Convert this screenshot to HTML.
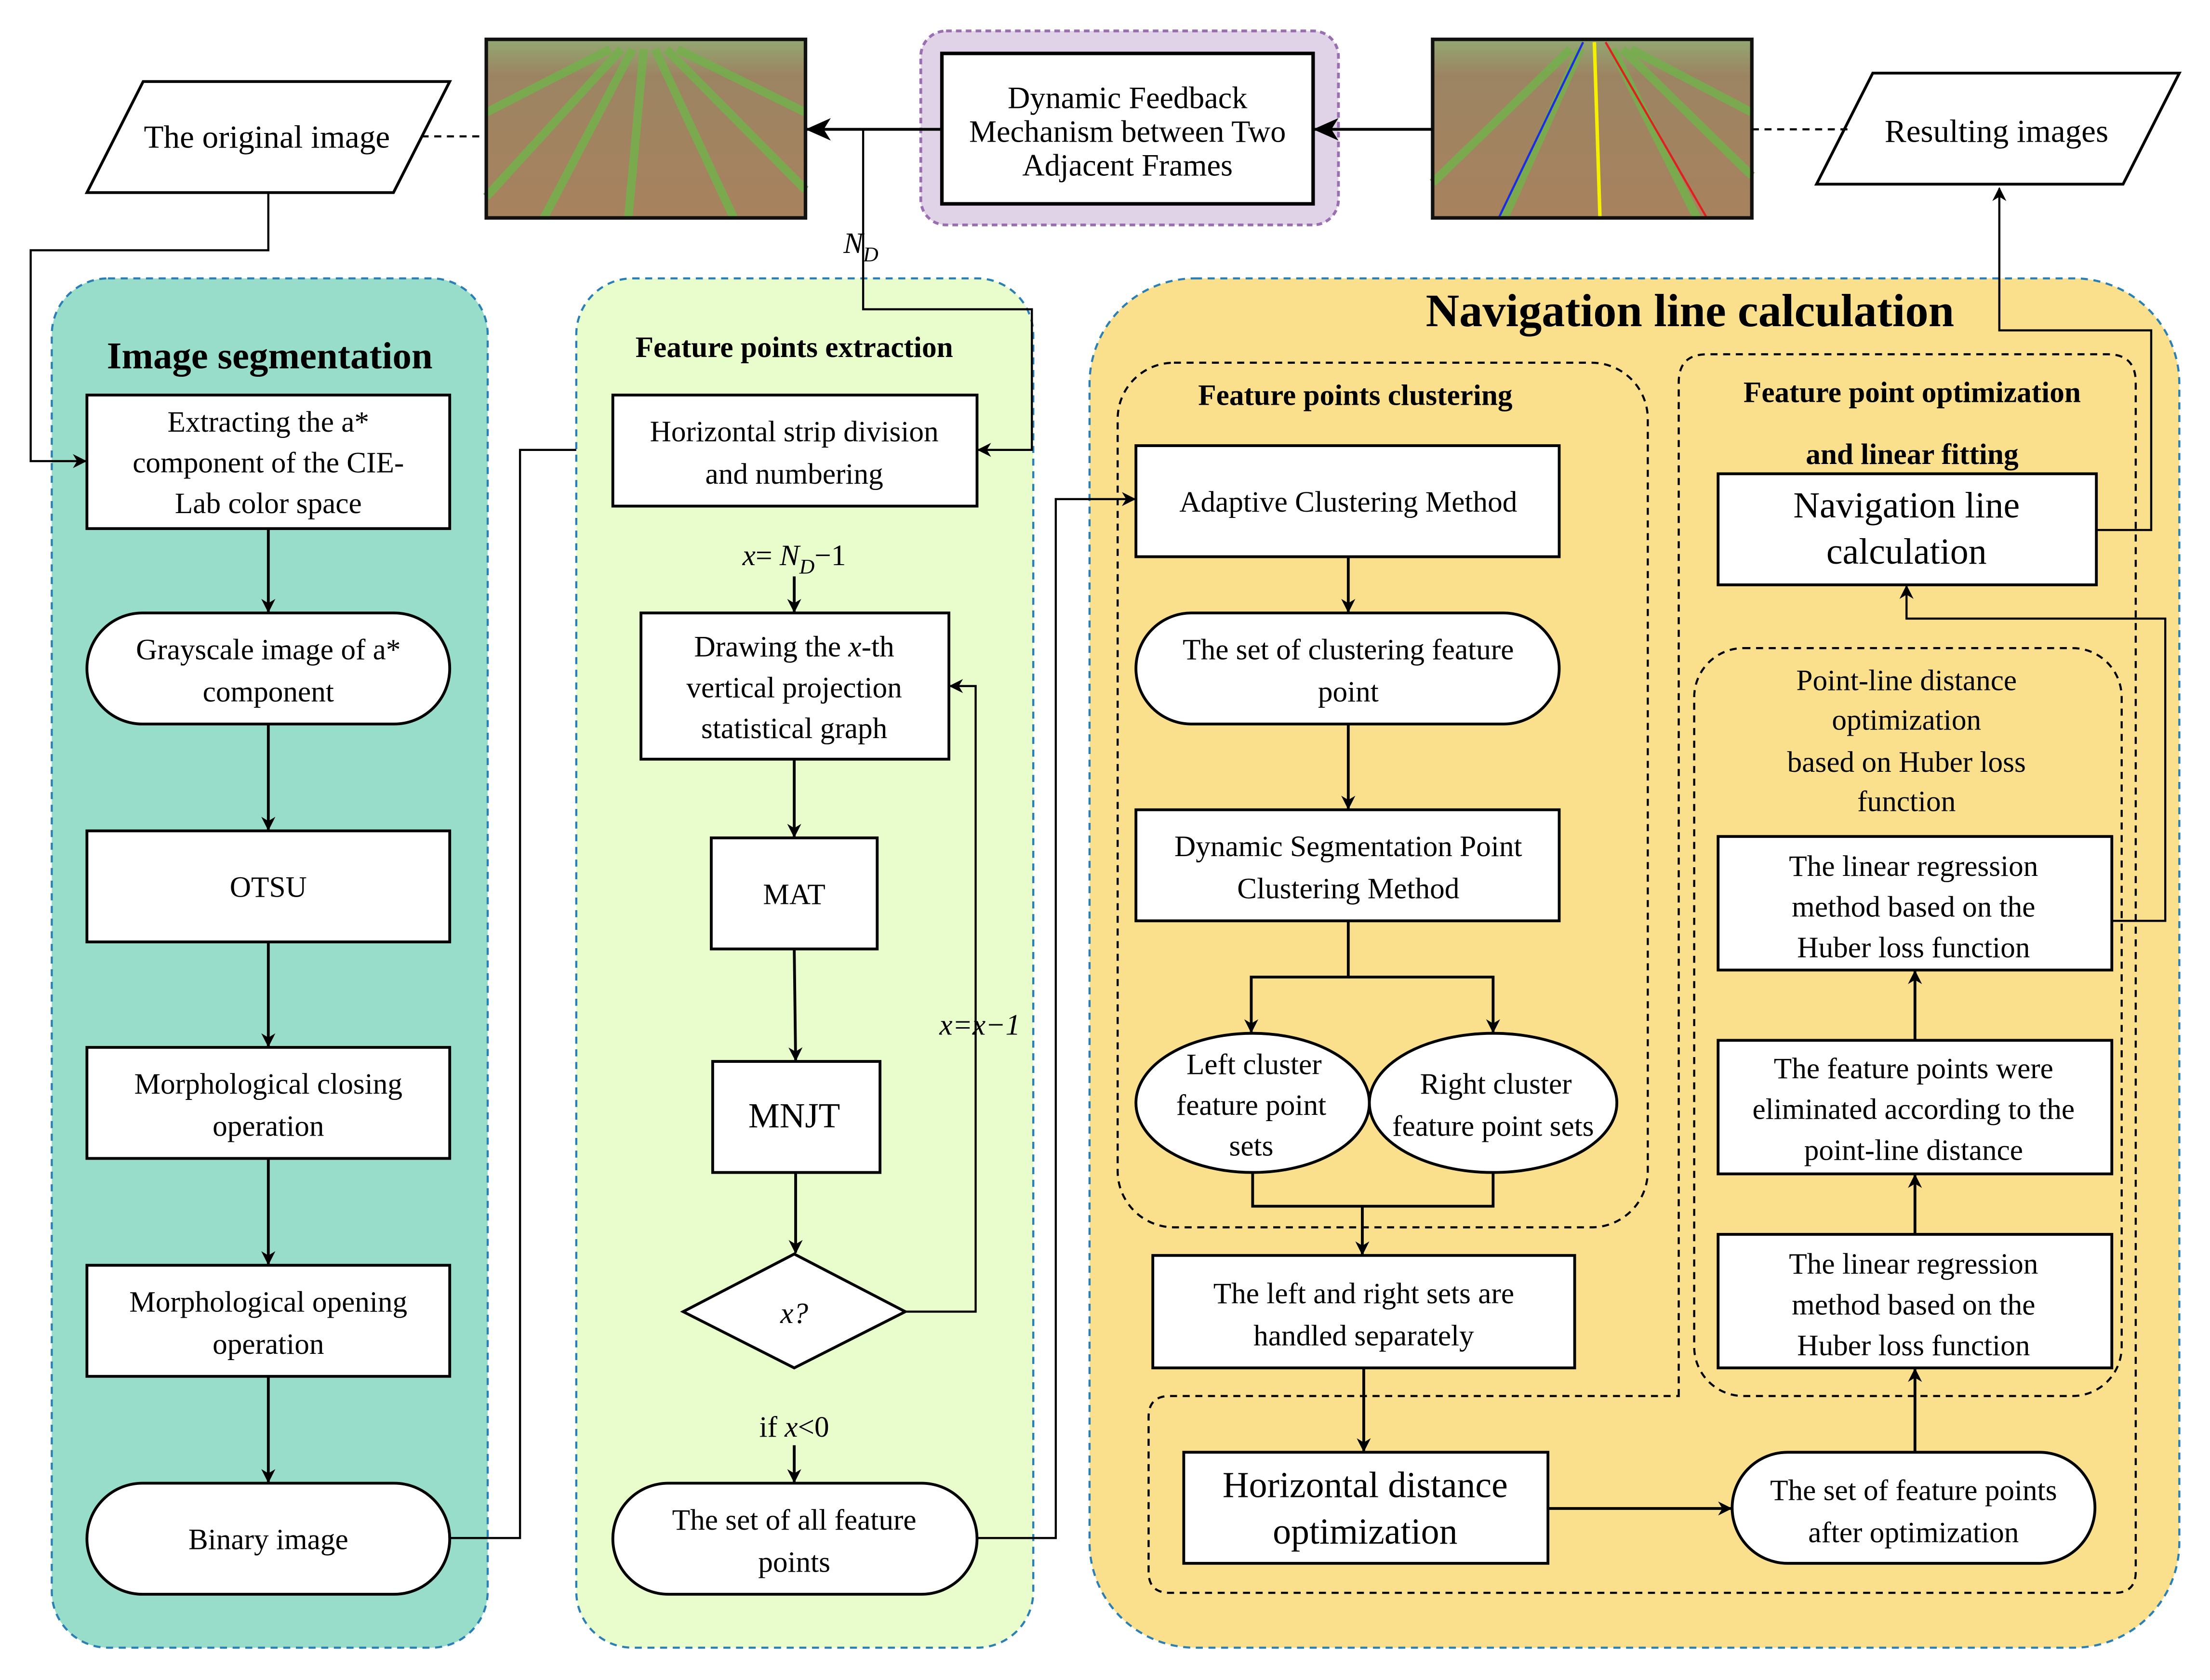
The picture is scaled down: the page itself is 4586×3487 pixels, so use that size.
<!DOCTYPE html>
<html><head><meta charset="utf-8"><style>
html,body{margin:0;padding:0;background:#fff}
svg{display:block;font-family:"Liberation Serif",serif}
text,tspan{font-family:"Liberation Serif",serif;fill:#000}
</style></head><body>
<svg width="4586" height="3487" viewBox="0 0 1568 1195" xmlns="http://www.w3.org/2000/svg" font-family="Liberation Serif, serif">
<defs>
<marker id="a" markerWidth="10" markerHeight="10" refX="9" refY="5" orient="auto" markerUnits="userSpaceOnUse"><path d="M0,0 L10,5 L0,10 L3,5z" fill="#000"/></marker>
<marker id="b" markerWidth="18" markerHeight="16" refX="17" refY="8" orient="auto" markerUnits="userSpaceOnUse"><path d="M0,0 L18,8 L0,16 L5,8z" fill="#000"/></marker>
<linearGradient id="soil" x1="0" y1="0" x2="0" y2="1"><stop offset="0" stop-color="#93a872"/><stop offset="0.2" stop-color="#9c8462"/><stop offset="1" stop-color="#a8825e"/></linearGradient>
</defs>
<rect width="1568" height="1195" fill="#fff"/>

<!-- panels -->
<rect x="35" y="198" width="310" height="974" rx="40" fill="#98dcca" stroke="#2a7fb5" stroke-width="1.5" stroke-dasharray="5,4"/>
<rect x="408" y="198" width="325" height="974" rx="40" fill="#e8fccc" stroke="#2a7fb5" stroke-width="1.5" stroke-dasharray="5,4"/>
<rect x="773" y="198" width="775" height="974" rx="75" fill="#fae08c" stroke="#2a7fb5" stroke-width="1.5" stroke-dasharray="5,4"/>

<!-- top row -->
<polygon points="60,137 100,58 318,58 278,137" fill="#fff" stroke="#000" stroke-width="2"/>
<text x="188" y="105" font-size="23" text-anchor="middle">The original image</text>
<line x1="298" y1="97" x2="344" y2="97" stroke="#000" stroke-width="1.5" stroke-dasharray="5,4"/>

<g>
<rect x="344" y="28" width="227" height="127" fill="url(#soil)"/>
<g stroke="#74b04c" stroke-width="6" opacity="0.85">
<line x1="440" y1="35" x2="344" y2="140"/><line x1="448" y1="35" x2="385" y2="155"/><line x1="456" y1="35" x2="445" y2="155"/><line x1="464" y1="35" x2="520" y2="155"/><line x1="472" y1="35" x2="571" y2="135"/><line x1="480" y1="35" x2="571" y2="80"/><line x1="432" y1="35" x2="344" y2="80"/>
</g>
<rect x="344" y="28" width="227" height="127" fill="none" stroke="#111" stroke-width="2.5"/>
</g>

<rect x="653" y="22" width="297" height="138" rx="18" fill="#e0d3e8" stroke="#9a6fb0" stroke-width="2" stroke-dasharray="4,3"/>
<rect x="668" y="38" width="264" height="107" fill="#fff" stroke="#000" stroke-width="2.5"/>
<text font-size="22" text-anchor="middle"><tspan x="800" y="77">Dynamic Feedback</tspan><tspan x="800" y="101">Mechanism between Two</tspan><tspan x="800" y="125">Adjacent Frames</tspan></text>

<g>
<rect x="1017" y="28" width="227" height="127" fill="url(#soil)"/>
<g stroke="#74b04c" stroke-width="6" opacity="0.85">
<line x1="1115" y1="35" x2="1017" y2="130"/><line x1="1122" y1="35" x2="1068" y2="155"/><line x1="1145" y1="35" x2="1205" y2="155"/><line x1="1152" y1="35" x2="1244" y2="125"/><line x1="1158" y1="35" x2="1244" y2="80"/>
</g>
<line x1="1124" y1="30" x2="1064" y2="155" stroke="#1a2ee0" stroke-width="1.5"/>
<line x1="1132" y1="30" x2="1136" y2="155" stroke="#f5f000" stroke-width="2.5"/>
<line x1="1140" y1="30" x2="1212" y2="155" stroke="#e02020" stroke-width="1.5"/>
<rect x="1017" y="28" width="227" height="127" fill="none" stroke="#111" stroke-width="2.5"/>
</g>

<polygon points="1290,131 1330,52 1548,52 1508,131" fill="#fff" stroke="#000" stroke-width="2"/>
<text x="1418" y="101" font-size="23" text-anchor="middle">Resulting images</text>
<line x1="1244" y1="92" x2="1312" y2="92" stroke="#000" stroke-width="1.5" stroke-dasharray="5,4"/>

<g stroke="#000" stroke-width="2" fill="none">
<line x1="668" y1="92" x2="572" y2="92" marker-end="url(#b)"/>
<line x1="1017" y1="92" x2="933" y2="92" marker-end="url(#b)"/>
<polyline points="612,92 612,220 732,220 732,320 694,320" stroke-width="1.5" marker-end="url(#a)"/>
<polyline points="189,137 189,178 20,178 20,328 59,328" stroke-width="1.5" marker-end="url(#a)"/>
</g>
<text x="598" y="180" font-size="21" font-style="italic">N<tspan font-size="15" dy="6">D</tspan></text>

<!-- Panel 1 -->
<text x="190" y="262" font-size="27" font-weight="bold" text-anchor="middle">Image segmentation</text>
<g fill="#fff" stroke="#000" stroke-width="2">
<rect x="60" y="281" width="258" height="95"/>
<rect x="60" y="436" width="258" height="79" rx="39.5"/>
<rect x="60" y="591" width="258" height="79"/>
<rect x="60" y="745" width="258" height="79"/>
<rect x="60" y="900" width="258" height="79"/>
<rect x="60" y="1055" width="258" height="79" rx="39.5"/>
</g>
<g font-size="21" text-anchor="middle">
<text><tspan x="189" y="307">Extracting the a*</tspan><tspan x="189" y="336">component of the CIE-</tspan><tspan x="189" y="365">Lab color space</tspan></text>
<text><tspan x="189" y="469">Grayscale image of a*</tspan><tspan x="189" y="499">component</tspan></text>
<text x="189" y="638">OTSU</text>
<text><tspan x="189" y="778">Morphological closing</tspan><tspan x="189" y="808">operation</tspan></text>
<text><tspan x="189" y="933">Morphological opening</tspan><tspan x="189" y="963">operation</tspan></text>
<text x="189" y="1102">Binary image</text>
</g>
<g stroke="#000" stroke-width="2" fill="none">
<line x1="189" y1="376" x2="189" y2="435" marker-end="url(#a)"/>
<line x1="189" y1="515" x2="189" y2="590" marker-end="url(#a)"/>
<line x1="189" y1="670" x2="189" y2="744" marker-end="url(#a)"/>
<line x1="189" y1="824" x2="189" y2="899" marker-end="url(#a)"/>
<line x1="189" y1="979" x2="189" y2="1054" marker-end="url(#a)"/>
<polyline points="318,1094 368,1094 368,320 408,320" stroke-width="1.5"/>
</g>

<!-- Panel 2 -->
<text x="563" y="254" font-size="21" font-weight="bold" text-anchor="middle">Feature points extraction</text>
<g fill="#fff" stroke="#000" stroke-width="2">
<rect x="434" y="281" width="259" height="79"/>
<rect x="454" y="436" width="219" height="104"/>
<rect x="504" y="596" width="118" height="79"/>
<rect x="505" y="755" width="119" height="79"/>
<polygon points="563,892 642,933 563,973 484,933"/>
<rect x="434" y="1055" width="259" height="79" rx="39.5"/>
</g>
<g font-size="21" text-anchor="middle">
<text><tspan x="563" y="314">Horizontal strip division</tspan><tspan x="563" y="344">and numbering</tspan></text>
<text x="563" y="402"><tspan font-style="italic">x</tspan>= <tspan font-style="italic">N</tspan><tspan font-size="15" dy="6" font-style="italic">D</tspan><tspan dy="-6">−1</tspan></text>
<text><tspan x="563" y="467">Drawing the <tspan font-style="italic">x</tspan>-th</tspan><tspan x="563" y="496">vertical projection</tspan><tspan x="563" y="525">statistical graph</tspan></text>
<text x="563" y="643">MAT</text>
<text x="563" y="802" font-size="25">MNJT</text>
<text x="563" y="941" font-style="italic">x?</text>
<text x="695" y="736" font-style="italic">x=x−1</text>
<text x="563" y="1022">if <tspan font-style="italic">x</tspan>&lt;0</text>
<text><tspan x="563" y="1088">The set of all feature</tspan><tspan x="563" y="1118">points</tspan></text>
</g>
<g stroke="#000" stroke-width="2" fill="none">
<line x1="563" y1="410" x2="563" y2="435" marker-end="url(#a)"/>
<line x1="563" y1="540" x2="563" y2="595" marker-end="url(#a)"/>
<line x1="563" y1="675" x2="564" y2="754" marker-end="url(#a)"/>
<line x1="564" y1="834" x2="564" y2="891" marker-end="url(#a)"/>
<line x1="563" y1="1028" x2="563" y2="1054" marker-end="url(#a)"/>
<polyline points="642,933 692,933 692,488 674,488" stroke-width="1.5" marker-end="url(#a)"/>
<polyline points="693,1094 749,1094 749,355 805,355" stroke-width="1.5" marker-end="url(#a)"/>
</g>

<!-- Panel 3 -->
<text x="1200" y="232" font-size="33" font-weight="bold" text-anchor="middle">Navigation line calculation</text>
<g fill="none" stroke="#000" stroke-width="1.5" stroke-dasharray="5,4">
<rect x="793" y="258" width="377" height="615" rx="40"/>
<path d="M1192,993 L1192,272 Q1192,252 1212,252 L1497,252 Q1517,252 1517,272 L1517,1118 Q1517,1133 1502,1133 L830,1133 Q815,1133 815,1118 L815,1008 Q815,993 830,993 Z"/>
<rect x="1203" y="461" width="304" height="532" rx="35"/>
</g>
<text x="962" y="288" font-size="21" font-weight="bold" text-anchor="middle">Feature points clustering</text>
<text x="1358" y="286" font-size="21" font-weight="bold" text-anchor="middle">Feature point optimization</text>
<text x="1358" y="330" font-size="21" font-weight="bold" text-anchor="middle">and linear fitting</text>

<g fill="#fff" stroke="#000" stroke-width="2">
<rect x="806" y="317" width="301" height="79"/>
<rect x="806" y="436" width="301" height="79" rx="39.5"/>
<rect x="806" y="576" width="301" height="79"/>
<ellipse cx="889" cy="784.5" rx="83" ry="49.5"/>
<ellipse cx="1060" cy="784.5" rx="88" ry="49.5"/>
<rect x="818" y="893" width="300" height="80"/>
<rect x="840" y="1033" width="259" height="79"/>
<rect x="1230" y="1033" width="258" height="79" rx="39.5"/>
<rect x="1220" y="878" width="280" height="95"/>
<rect x="1220" y="740" width="280" height="95"/>
<rect x="1220" y="595" width="280" height="95"/>
<rect x="1220" y="337" width="269" height="79"/>
</g>
<g font-size="21" text-anchor="middle">
<text x="957" y="364">Adaptive Clustering Method</text>
<text><tspan x="957" y="469">The set of clustering feature</tspan><tspan x="957" y="499">point</tspan></text>
<text><tspan x="957" y="609">Dynamic Segmentation Point</tspan><tspan x="957" y="639">Clustering Method</tspan></text>
<text><tspan x="890" y="764">Left cluster</tspan><tspan x="888" y="793">feature point</tspan><tspan x="888" y="822">sets</tspan></text>
<text><tspan x="1062" y="778">Right cluster</tspan><tspan x="1060" y="808">feature point sets</tspan></text>
<text><tspan x="968" y="927">The left and right sets are</tspan><tspan x="968" y="957">handled separately</tspan></text>
<text font-size="26"><tspan x="969" y="1065">Horizontal distance</tspan><tspan x="969" y="1098">optimization</tspan></text>
<text><tspan x="1359" y="1067">The set of feature points</tspan><tspan x="1359" y="1097">after optimization</tspan></text>
<text><tspan x="1359" y="906">The linear regression</tspan><tspan x="1359" y="935">method based on the</tspan><tspan x="1359" y="964">Huber loss function</tspan></text>
<text><tspan x="1359" y="767">The feature points were</tspan><tspan x="1359" y="796">eliminated according to the</tspan><tspan x="1359" y="825">point-line distance</tspan></text>
<text><tspan x="1359" y="623">The linear regression</tspan><tspan x="1359" y="652">method based on the</tspan><tspan x="1359" y="681">Huber loss function</tspan></text>
<text><tspan x="1354" y="491">Point-line distance</tspan><tspan x="1354" y="519">optimization</tspan><tspan x="1354" y="549">based on Huber loss</tspan><tspan x="1354" y="577">function</tspan></text>
<text font-size="26"><tspan x="1354" y="368">Navigation line</tspan><tspan x="1354" y="401">calculation</tspan></text>
</g>
<g stroke="#000" stroke-width="2" fill="none">
<line x1="957" y1="396" x2="957" y2="435" marker-end="url(#a)"/>
<line x1="957" y1="515" x2="957" y2="575" marker-end="url(#a)"/>
<polyline points="957,655 957,695 888,695 888,734" marker-end="url(#a)"/>
<polyline points="957,695 1060,695 1060,734" marker-end="url(#a)"/>
<polyline points="889,834 889,858 1060,858 1060,834"/>
<line x1="967" y1="858" x2="967" y2="892" marker-end="url(#a)"/>
<line x1="968" y1="973" x2="968" y2="1032" marker-end="url(#a)"/>
<line x1="1099" y1="1073" x2="1229" y2="1073" marker-end="url(#a)"/>
<line x1="1360" y1="1033" x2="1360" y2="974" marker-end="url(#a)"/>
<line x1="1360" y1="878" x2="1360" y2="836" marker-end="url(#a)"/>
<line x1="1360" y1="740" x2="1360" y2="691" marker-end="url(#a)"/>
<polyline points="1500,655 1538,655 1538,440 1354,440 1354,417" stroke-width="1.5" marker-end="url(#a)"/>
<polyline points="1489,377 1528,377 1528,235 1420,235 1420,134" stroke-width="1.5" marker-end="url(#a)"/>
</g>
</svg>
</body></html>
